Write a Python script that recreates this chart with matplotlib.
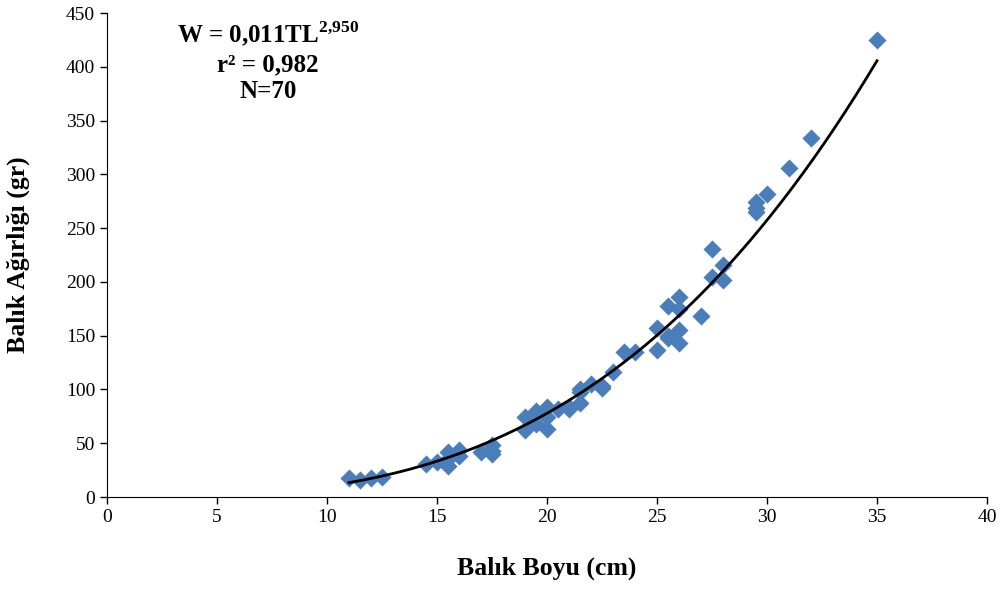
import numpy as np
import matplotlib
matplotlib.use("Agg")
import matplotlib.pyplot as plt

# fish length (cm) and weight (g)
length = [11, 11.5, 12, 12.5,
          14.5, 15, 15.5, 15.5, 15.5, 16, 16,
          17, 17.5, 17.5, 17.5,
          19, 19, 19.5, 19.5, 20, 20, 20, 20.5, 21, 21, 21.5, 21.5, 21.5,
          22, 22.5, 22.5, 23, 23.5, 24,
          25, 25, 25.5, 25.5, 25.5, 26, 26, 26, 26, 27, 27.5, 27.5, 28, 28,
          29.5, 29.5, 29.5, 30, 31, 32, 35]
weight = [18, 16, 18, 19,
          31, 33, 42, 35, 29, 44, 38,
          42, 48, 40, 43,
          74, 62, 80, 68, 84, 63, 74, 82, 82, 84, 98, 87, 100,
          105, 103, 101, 116, 135, 135,
          157, 137, 178, 148, 150, 186, 175, 155, 143, 168, 231, 205, 216, 202,
          274, 265, 269, 282, 306, 334, 425]

# trendline as drawn in the picture (label says 0,011 / 2,950)
a, b = 0.0113, 2.950

plt.rcParams['font.family'] = ['Liberation Serif', 'DejaVu Serif']
plt.rcParams['mathtext.fontset'] = 'custom'
plt.rcParams['mathtext.rm'] = 'Liberation Serif'
plt.rcParams['mathtext.bf'] = 'Liberation Serif:bold'

fig = plt.figure(figsize=(10.08, 5.89), dpi=100)
ax = fig.add_axes([107 / 1008, 1 - 497 / 589, 880 / 1008, 484 / 589])

ax.scatter(length, weight, marker='D', s=85, color='#4a7ebb', zorder=2, linewidths=0)
tl = np.linspace(min(length), max(length), 200)
ax.plot(tl, a * tl ** b, color='black', lw=2, zorder=3)

ax.set_xlim(0, 40)
ax.set_ylim(0, 450)
ax.set_xticks(range(0, 41, 5))
ax.set_yticks(range(0, 451, 50))
ax.tick_params(labelsize=14, direction='out', length=5, width=1)
for s in ['top', 'right']:
    ax.spines[s].set_visible(False)

ax.set_xlabel('Balık Boyu (cm)', fontsize=18.5, fontweight='bold', labelpad=22)
ax.set_ylabel('Balık Ağırlığı (gr)', fontsize=18.5, fontweight='bold', labelpad=26)

ax.text(0.183, 0.985, 'W = 0,011TL$^{\\mathbf{2{,}950}}$\nr² = 0,982\nN=70',
        transform=ax.transAxes, ha='center', va='top', fontsize=18,
        fontweight='bold', linespacing=1.2)

fig.savefig('out.png', dpi=100)
